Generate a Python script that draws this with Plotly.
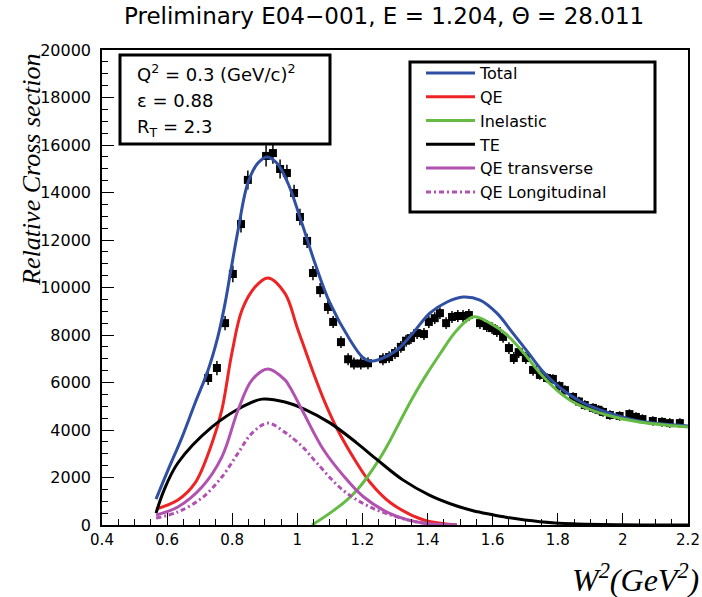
import plotly.graph_objects as go

# ---- data points (W^2, relative cross section, error) ----
data_x = [0.726, 0.753, 0.778, 0.802, 0.827, 0.848, 0.904, 0.925, 0.947, 0.968,
          0.990, 1.008, 1.030, 1.048, 1.070, 1.094, 1.110, 1.134, 1.156, 1.174,
          1.195, 1.217, 1.263, 1.282, 1.300, 1.318, 1.334, 1.349, 1.368, 1.389,
          1.404, 1.422, 1.438, 1.457, 1.475, 1.493, 1.509, 1.527, 1.561, 1.582,
          1.598, 1.613, 1.632, 1.650, 1.665, 1.680, 1.702, 1.724, 1.745, 1.767,
          1.785, 1.805, 1.822, 1.847, 1.865, 1.883, 1.908, 1.925, 1.939, 1.960,
          1.990, 2.020, 2.040, 2.060, 2.092, 2.120, 2.144, 2.175]
data_y = [6190, 6610, 8500, 10570, 12670, 14530, 15540, 15660, 14990, 14820,
          13980, 12970, 11960, 10610, 9890, 9180, 8550, 7700, 6980, 6800,
          6800, 6810, 6980, 7070, 7240, 7500, 7760, 7870, 8080, 8040,
          8550, 8710, 8920, 8500, 8760, 8800, 8800, 8840, 8500, 8380,
          8290, 8170, 7920, 7450, 7030, 7280, 7030, 6530, 6320, 6190,
          6150, 5850, 5680, 5390, 5200, 5050, 4930, 4850, 4760, 4630,
          4590, 4670, 4550, 4460, 4380, 4340, 4290, 4290]
data_err = [300, 300, 300, 350, 350, 400, 450, 450, 400, 350,
            350, 350, 300, 300, 300, 300, 250, 250, 250, 250,
            250, 250, 250, 250, 250, 250, 250, 250, 250, 250,
            250, 250, 250, 250, 250, 250, 250, 250, 250, 250,
            250, 250, 250, 250, 250, 250, 250, 250, 200, 200,
            200, 200, 200, 200, 200, 200, 200, 200, 200, 200,
            200, 200, 200, 200, 200, 200, 200, 200]

# ---- model curves ----
total_x = [0.566, 0.603, 0.646, 0.686, 0.726, 0.756, 0.778, 0.793, 0.818, 0.848,
           0.879, 0.907, 0.937, 0.971, 1.014, 1.054, 1.100, 1.162, 1.200, 1.223,
           1.254, 1.306, 1.355, 1.407, 1.460, 1.509, 1.561, 1.613, 1.662, 1.708,
           1.755, 1.807, 1.870, 1.950, 2.050, 2.200]
total_y = [1090, 2320, 3700, 5140, 6530, 7930, 9330, 10500, 12420, 14400,
           15240, 15500, 15240, 14400, 12710, 11030, 9350, 7790, 7070, 6900,
           6980, 7370, 8080, 8920, 9390, 9600, 9470, 8920, 8080, 7280,
           6450, 5780, 5200, 4750, 4380, 4170]

qe_x = [0.566, 0.633, 0.686, 0.738, 0.768, 0.799, 0.830, 0.870, 0.910, 0.962,
        1.000, 1.048, 1.085, 1.122, 1.183, 1.223, 1.285, 1.386, 1.490]
qe_y = [670, 1050, 1770, 3450, 4840, 7240, 9050, 10020, 10400, 9750,
        8300, 6450, 5150, 4050, 2600, 1800, 950, 220, 0]

inel_x = [1.045, 1.100, 1.152, 1.185, 1.214, 1.254, 1.285, 1.315, 1.350, 1.386,
          1.438, 1.490, 1.540, 1.592, 1.644, 1.693, 1.745, 1.797, 1.847, 1.950,
          2.050, 2.200]
inel_y = [0, 500, 1050, 1500, 2000, 2820, 3560, 4350, 5250, 6100,
          7200, 8200, 8760, 8500, 8000, 7280, 6400, 5680, 5180, 4630,
          4340, 4130]

te_x = [0.566, 0.590, 0.633, 0.738, 0.830, 0.891, 0.962, 1.023, 1.100, 1.183,
        1.245, 1.324, 1.407, 1.490, 1.540, 1.592, 1.644, 1.745, 1.847, 2.000,
        2.200]
te_y = [500, 1450, 2610, 4130, 4970, 5300, 5180, 4870, 4300, 3450,
        2750, 1900, 1250, 800, 600, 450, 320, 140, 50, 10,
        0]

qet_x = [0.566, 0.633, 0.707, 0.768, 0.818, 0.861, 0.910, 0.962, 0.977, 1.017,
         1.079, 1.140, 1.202, 1.285, 1.386, 1.490]
qet_y = [420, 760, 1600, 2860, 4840, 6110, 6570, 6110, 5810, 4780,
         3200, 2100, 1200, 480, 80, 0]

qel_x = [0.566, 0.633, 0.707, 0.768, 0.818, 0.861, 0.910, 0.962, 0.977, 1.017,
         1.060, 1.140, 1.223, 1.306, 1.386, 1.490]
qel_y = [290, 550, 1140, 2020, 3030, 3870, 4290, 3900, 3750, 3280,
         2610, 1470, 760, 340, 80, 0]

x_ticks = [0.4, 0.6, 0.8, 1.0, 1.2, 1.4, 1.6, 1.8, 2.0, 2.2]
x_tick_labels = ["0.4", "0.6", "0.8", "1", "1.2", "1.4", "1.6", "1.8", "2", "2.2"]
y_ticks = [0, 2000, 4000, 6000, 8000, 10000, 12000, 14000, 16000, 18000, 20000]
y_tick_labels = ["0", "2000", "4000", "6000", "8000", "10000", "12000", "14000",
                 "16000", "18000", "20000"]

FONT = "DejaVu Sans"
SERIF = "Liberation Serif"

fig = go.Figure()

curves = [
    ("Total", total_x, total_y, "#2f4fa2", "solid"),
    ("QE", qe_x, qe_y, "#ee2424", "solid"),
    ("Inelastic", inel_x, inel_y, "#66bb44", "solid"),
    ("TE", te_x, te_y, "#000000", "solid"),
    ("QE transverse", qet_x, qet_y, "#b152b0", "solid"),
    ("QE Longitudinal", qel_x, qel_y, "#b152b0", "5px,3px,2px,3px"),
]

fig.add_trace(go.Scatter(
    x=data_x, y=data_y, mode="markers", showlegend=False,
    marker=dict(symbol="square", size=8, color="black"),
    error_y=dict(type="data", array=data_err, visible=True, color="black",
                 thickness=1.5, width=0),
))

for name, xs, ys, col, dash in curves:
    fig.add_trace(go.Scatter(
        x=xs, y=ys, mode="lines", name=name,
        line=dict(color=col, width=3, dash=dash, shape="spline", smoothing=1.0),
    ))

L, R, T, B = 102, 14, 50, 72
W, H = 702, 597
pw = W - L - R
ph = H - T - B

def px2x(p):
    return (p - L) / pw

def py2y(p):
    return (H - B - p) / ph

fig.update_layout(
    width=W, height=H,
    margin=dict(l=L, r=R, t=T, b=B, autoexpand=False),
    paper_bgcolor="white", plot_bgcolor="white",
    font=dict(family=FONT, size=15, color="black"),
    legend=dict(
        x=px2x(421), y=py2y(56), xanchor="left", yanchor="top",
        bgcolor="rgba(0,0,0,0)", borderwidth=0,
        font=dict(family=FONT, size=16, color="black"),
        itemwidth=49,
    ),
    xaxis=dict(
        range=[0.4, 2.2], tickmode="array", tickvals=x_ticks, ticktext=x_tick_labels,
        ticks="inside", ticklen=12, tickwidth=1, tickcolor="black",
        showline=True, linecolor="black", linewidth=1.5, mirror=True,
        showgrid=False, zeroline=False, automargin=False,
        minor=dict(ticks="inside", ticklen=6, dtick=0.05, tickcolor="black", showgrid=False),
        tickfont=dict(family=FONT, size=15),
    ),
    yaxis=dict(
        range=[0, 20000], tickmode="array", tickvals=y_ticks, ticktext=y_tick_labels,
        ticks="inside", ticklen=12, tickwidth=1, tickcolor="black",
        showline=True, linecolor="black", linewidth=1.5, mirror=True,
        showgrid=False, zeroline=False, automargin=False, ticklabelstandoff=6,
        minor=dict(ticks="inside", ticklen=6, dtick=500, tickcolor="black", showgrid=False),
        tickfont=dict(family=FONT, size=16),
    ),
)

# boxes
fig.add_shape(type="rect", xref="paper", yref="paper",
              x0=px2x(120), x1=px2x(330), y0=py2y(144), y1=py2y(55),
              line=dict(color="black", width=3), fillcolor="white", layer="above")
fig.add_shape(type="rect", xref="paper", yref="paper",
              x0=px2x(410), x1=px2x(655), y0=py2y(212), y1=py2y(62),
              line=dict(color="black", width=3), fillcolor="rgba(0,0,0,0)", layer="above")

# title
fig.add_annotation(text="Preliminary E04\u2212001, E = 1.204, \u0398 = 28.011",
                   xref="paper", yref="paper", x=px2x(384), y=py2y(16),
                   xanchor="center", yanchor="middle", showarrow=False,
                   font=dict(family=FONT, size=23))

# info box text
info = ["Q<sup>2</sup> = 0.3 (GeV/c)<sup>2</sup>", "\u03b5 = 0.88", "R<sub>T</sub> = 2.3"]
for i, t in enumerate(info):
    fig.add_annotation(text=t, xref="paper", yref="paper",
                       x=px2x(135), y=py2y(73 + 27.5 * i), xanchor="left", yanchor="middle",
                       showarrow=False, font=dict(family=FONT, size=18))

# axis titles
fig.add_annotation(text="<i>Relative Cross section</i>", xref="paper", yref="paper",
                   x=px2x(31), y=py2y(170), xanchor="center", yanchor="middle",
                   textangle=-90, showarrow=False, font=dict(family=SERIF, size=26))
fig.add_annotation(text="<i>W<sup>2</sup>(GeV<sup>2</sup>)</i>", xref="paper", yref="paper",
                   x=px2x(701), y=py2y(578), xanchor="right", yanchor="middle",
                   showarrow=False, font=dict(family=SERIF, size=32))

fig.write_html("out.html")
